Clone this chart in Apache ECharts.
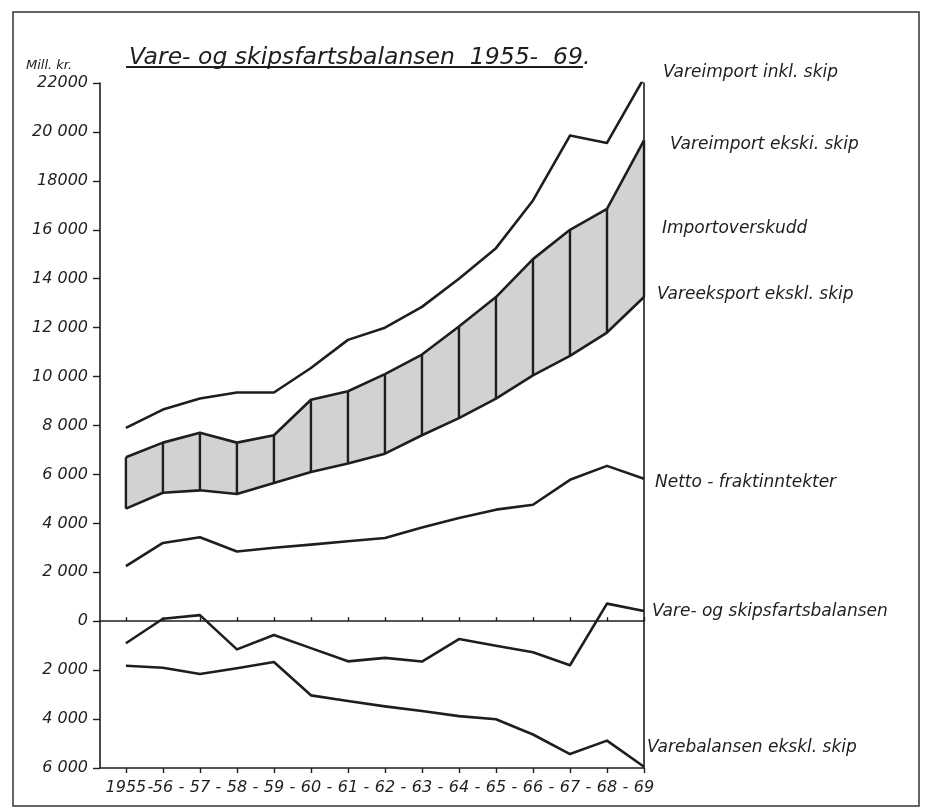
<!DOCTYPE html>
<html>
<head>
<meta charset="utf-8">
<script src="https://cdn.jsdelivr.net/npm/echarts@6/dist/echarts.min.js"></script>
<style>
html,body{margin:0;padding:0;background:#fff;}
#chart{width:930px;height:811px;}
</style>
</head>
<body>
<div id="chart"></div>
<script>
// ---- data (Mill. kr.) ----
const years = [1955,1956,1957,1958,1959,1960,1961,1962,1963,1964,1965,1966,1967,1968,1969];
const importInkl  = [7900, 8650, 9100, 9350, 9350, 10350, 11500, 12000, 12850, 14000, 15250, 17200, 19850, 19550, 22200];
const importEkskl = [6700, 7300, 7700, 7300, 7600, 9050, 9400, 10100, 10900, 12050, 13250, 14800, 16000, 16850, 19650];
const exportEkskl = [4600, 5250, 5350, 5200, 5650, 6100, 6450, 6850, 7600, 8300, 9100, 10050, 10850, 11800, 13250];
const nettoFrakt  = [2250, 3200, 3430, 2850, 3000, 3130, 3270, 3400, 3830, 4220, 4560, 4760, 5780, 6350, 5820];
const vareSkipBalanse = [-900, 100, 250, -1150, -560, -1100, -1640, -1500, -1650, -730, -1000, -1270, -1800, 720, 420];
const vareBalanse = [-1820, -1900, -2160, -1920, -1670, -3030, -3260, -3480, -3670, -3880, -4010, -4630, -5430, -4880, -5950];

const yTickValues = [-6000,-4000,-2000,0,2000,4000,6000,8000,10000,12000,14000,16000,18000,20000,22000];
const yTickLabels = ['6 000','4 000','2 000','0','2 000','4 000','6 000','8 000','10 000','12 000','14 000','16 000','18000','20 000','22000'];
const xYearLabels = ['1955','56','57','58','59','60','61','62','63','64','65','66','67','68','69'];

const titleText = 'Vare- og skipsfartsbalansen  1955-  69.';
const unitText = 'Mill. kr.';
const seriesNames = ['Vareimport inkl. skip','Vareimport ekski. skip','Importoverskudd','Vareeksport ekskl. skip','Netto - fraktinntekter','Vare- og skipsfartsbalansen','Varebalansen ekskl. skip'];

// ---- helpers ----
const X_MIN = 1954.3, X_MAX = 1969;
const pairs = arr => years.map((y, i) => [y, arr[i]]);
const bandData = years.map((y, i) => [y, exportEkskl[i], importEkskl[i]]);
// label positions: years plus separating dashes between them
const labelSteps = [X_MIN];
years.forEach((y, i) => {
  labelSteps.push(y);
  if (i < years.length - 1) labelSteps.push(i === 0 ? y + 0.66 : y + 0.5);
});

const INK = '#1e1e1e';
const FILL = '#d2d2d2';
const FONT = 'DejaVu Sans';
const LW = 2.6;

function lineSeries(name, arr) {
  return {
    name: name, type: 'line', data: pairs(arr), symbol: 'none', silent: true,
    lineStyle: { color: INK, width: LW, join: 'round' }, z: 5
  };
}

const chart = echarts.init(document.getElementById('chart'), null, { renderer: 'canvas' });

const textStyle = { fontFamily: FONT, fontStyle: 'italic', fontSize: 17, fill: INK, verticalAlign: 'middle' };

chart.setOption({
  backgroundColor: '#ffffff',
  animation: false,
  title: {
    text: titleText, left: 124, top: 41,
    textStyle: { fontFamily: FONT, fontStyle: 'italic', fontWeight: 'normal', fontSize: 23.5, color: INK }
  },
  grid: { left: 100, right: 286, top: 83, bottom: 43, containLabel: false },
  xAxis: [
    {
      type: 'value', min: X_MIN, max: X_MAX, position: 'bottom',
      axisLine: { onZero: false, lineStyle: { color: INK, width: 1.6 } },
      axisTick: { customValues: years, length: 5, lineStyle: { color: INK, width: 1.4 } },
      axisLabel: {
        customValues: labelSteps, margin: 12, color: INK,
        hideOverlap: false,
        fontFamily: FONT, fontStyle: 'italic', fontSize: 16,
        formatter: function (v) {
          if (v < years[0]) return '';
          const i = years.indexOf(v);
          return i >= 0 ? xYearLabels[i] : '-';
        }
      },
      splitLine: { show: false }
    },
    {
      type: 'value', min: X_MIN, max: X_MAX, position: 'top',
      axisLine: { onZero: true, onZeroAxisIndex: 0, lineStyle: { color: INK, width: 1.6 } },
      axisTick: { customValues: years, length: 4, lineStyle: { color: INK, width: 1.4 } },
      axisLabel: { show: false },
      splitLine: { show: false }
    }
  ],
  yAxis: [
    {
      type: 'value', min: -6000, max: 22000, interval: 2000, position: 'left',
      axisLine: { show: true, onZero: false, lineStyle: { color: INK, width: 1.6 } },
      axisTick: { show: true, length: 7, lineStyle: { color: INK, width: 1.4 } },
      axisLabel: {
        margin: 12, color: INK, fontFamily: FONT, fontStyle: 'italic', fontSize: 16,
        formatter: function (v) {
          const i = yTickValues.indexOf(v);
          return i >= 0 ? yTickLabels[i] : '';
        }
      },
      splitLine: { show: false }
    },
    {
      type: 'value', min: -6000, max: 22000, interval: 2000, position: 'right',
      axisLine: { show: true, onZero: false, lineStyle: { color: INK, width: 1.6 } },
      axisTick: { show: false },
      axisLabel: { show: false },
      splitLine: { show: false }
    }
  ],
  series: [
    {
      name: seriesNames[2], type: 'custom', data: bandData, silent: true, z: 2,
      encode: { x: 0, y: [1, 2] },
      renderItem: function (params, api) {
        const i = params.dataIndex;
        const x = api.value(0);
        const lo = api.coord([x, api.value(1)]);
        const hi = api.coord([x, api.value(2)]);
        const children = [];
        if (i < bandData.length - 1) {
          const nx = bandData[i + 1][0];
          const nlo = api.coord([nx, bandData[i + 1][1]]);
          const nhi = api.coord([nx, bandData[i + 1][2]]);
          children.push({
            type: 'polygon',
            shape: { points: [lo, nlo, nhi, hi] },
            style: { fill: FILL, stroke: FILL, lineWidth: 0.8 }
          });
        }
        children.push({
          type: 'line',
          shape: { x1: lo[0], y1: lo[1], x2: hi[0], y2: hi[1] },
          style: { stroke: INK, lineWidth: 2.4 }
        });
        return { type: 'group', children: children };
      }
    },
    lineSeries(seriesNames[0], importInkl),
    lineSeries(seriesNames[1], importEkskl),
    lineSeries(seriesNames[3], exportEkskl),
    lineSeries(seriesNames[4], nettoFrakt),
    lineSeries(seriesNames[5], vareSkipBalanse),
    lineSeries(seriesNames[6], vareBalanse)
  ],
  graphic: [
    { type: 'rect', shape: { x: 13, y: 12, width: 906, height: 794 }, style: { fill: null, stroke: '#333', lineWidth: 1.5 }, silent: true },
    { type: 'line', shape: { x1: 126, y1: 67, x2: 583, y2: 67 }, style: { stroke: INK, lineWidth: 1.8 }, silent: true },
    { type: 'text', x: 26, y: 66, style: Object.assign({}, textStyle, { text: unitText, fontSize: 13 }) },
    { type: 'text', x: 663, y: 73, style: Object.assign({}, textStyle, { text: seriesNames[0] }) },
    { type: 'text', x: 670, y: 145, style: Object.assign({}, textStyle, { text: seriesNames[1] }) },
    { type: 'text', x: 662, y: 229, style: Object.assign({}, textStyle, { text: seriesNames[2] }) },
    { type: 'text', x: 657, y: 295, style: Object.assign({}, textStyle, { text: seriesNames[3] }) },
    { type: 'text', x: 655, y: 483, style: Object.assign({}, textStyle, { text: seriesNames[4] }) },
    { type: 'text', x: 652, y: 612, style: Object.assign({}, textStyle, { text: seriesNames[5] }) },
    { type: 'text', x: 647, y: 748, style: Object.assign({}, textStyle, { text: seriesNames[6] }) }
  ]
});
</script>
</body>
</html>
